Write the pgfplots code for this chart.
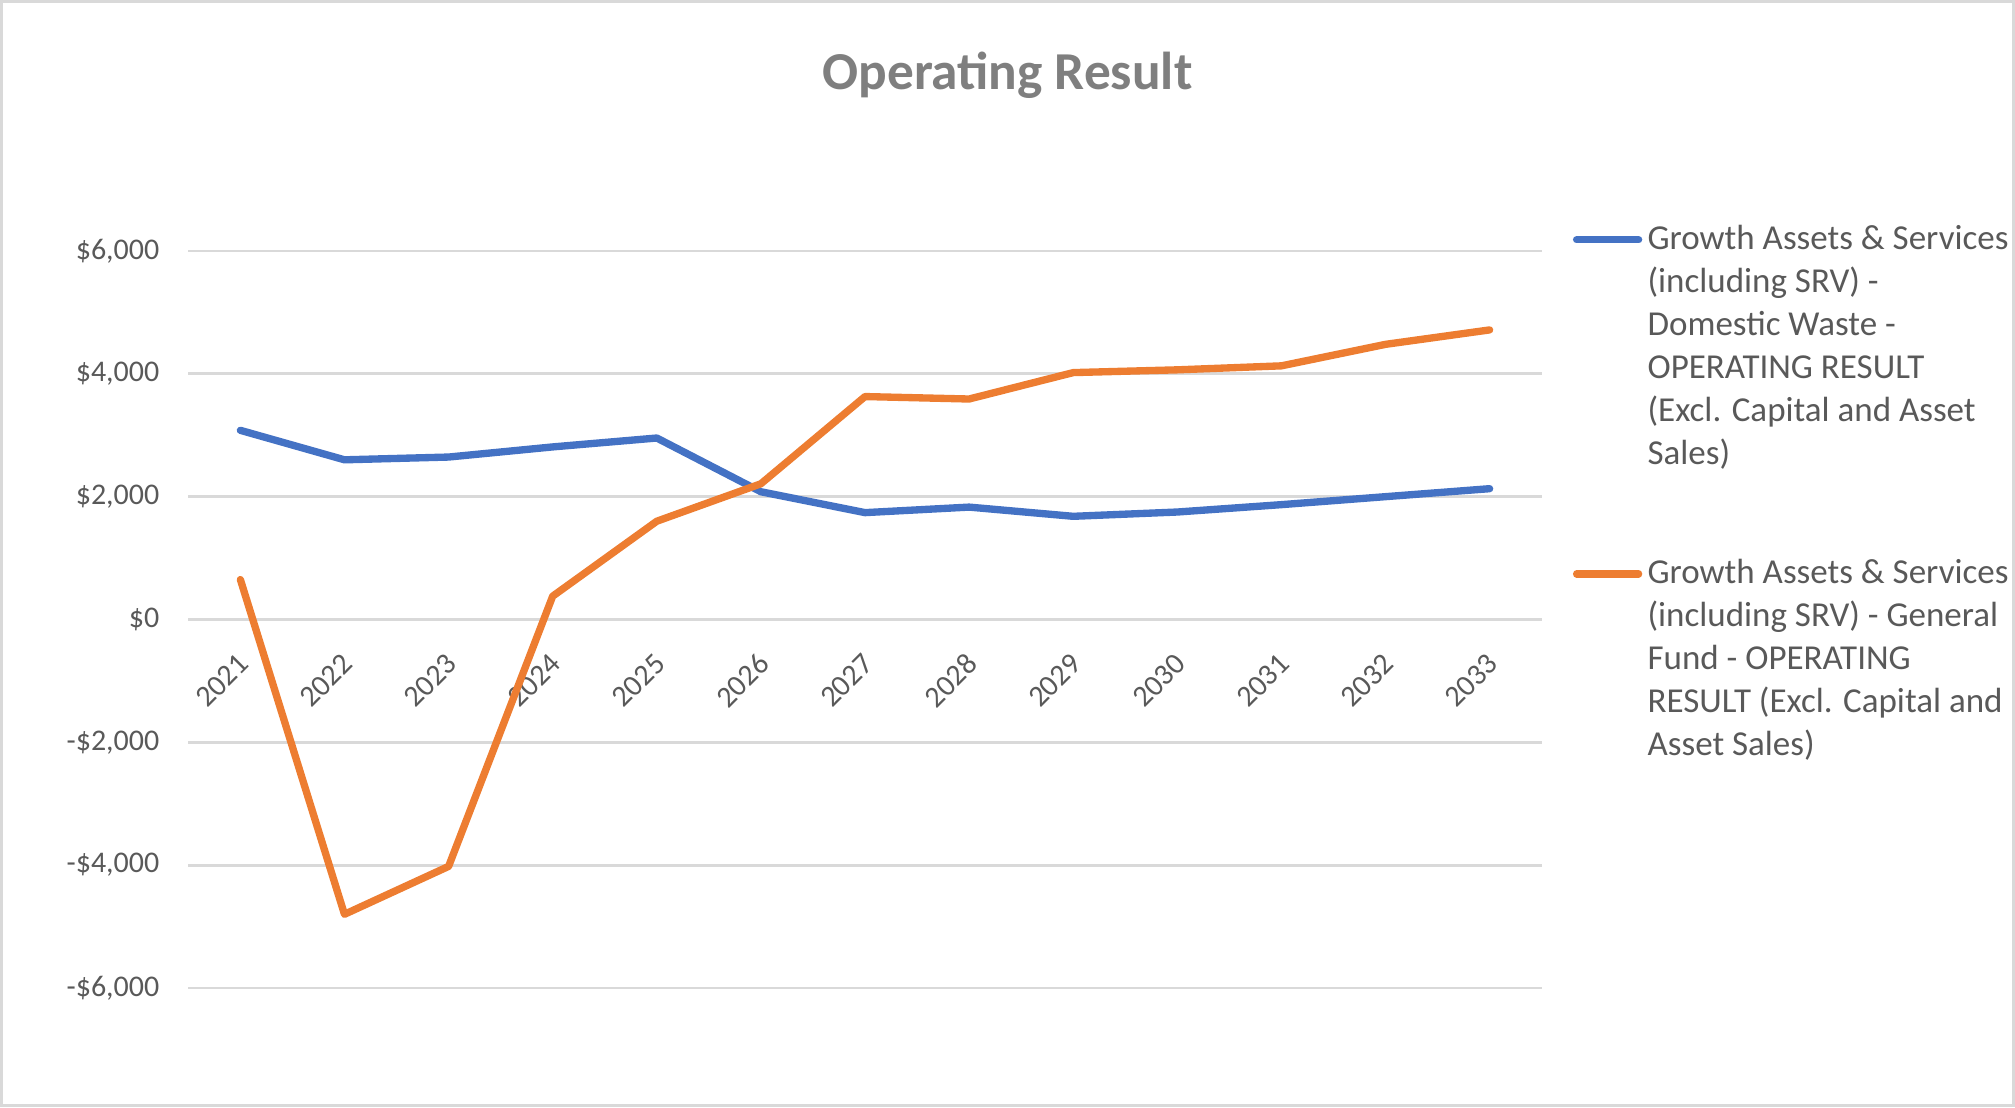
\documentclass[border=0pt]{standalone}
\usepackage{pgfplots}
\pgfplotsset{compat=1.18}
\usepackage{fontspec}
\setmainfont{Carlito}
\definecolor{sblue}{HTML}{4472C4}
\definecolor{sorange}{HTML}{ED7D31}
\definecolor{txt}{HTML}{595959}
\definecolor{ttl}{HTML}{7F7F7F}
\definecolor{gridc}{HTML}{D9D9D9}
\definecolor{framec}{HTML}{D9D9D9}
\begin{document}
\begin{tikzpicture}
\path[use as bounding box] (0,0) rectangle (604.5pt,332.1pt);
\draw[framec, line width=0.8pt] (0.4pt,0.4pt) rectangle (604.1pt,331.7pt);
\node[anchor=base, text=ttl, font=\fontsize{16}{19}\selectfont\bfseries] at (302.25pt,305.1pt) {Operating Result};
\begin{axis}[
  at={(56.5pt,35.7pt)}, anchor=south west,
  scale only axis, width=406pt, height=221.1pt,
  xmin=-0.5, xmax=12.5, ymin=-6000, ymax=6000,
  axis x line=middle, axis y line=left,
  x axis line style={draw=none}, y axis line style={draw=none},
  hide obscured x ticks=false, hide obscured y ticks=false,
  major tick length=0pt,
  xtick={0,1,2,3,4,5,6,7,8,9,10,11,12},
  xticklabels={2021,2022,2023,2024,2025,2026,2027,2028,2029,2030,2031,2032,2033},
  ytick={-6000,-4000,-2000,0,2000,4000,6000},
  yticklabels={{-\$6,000},{-\$4,000},{-\$2,000},{\$0},{\$2,000},{\$4,000},{\$6,000}},
  ymajorgrids, grid style={gridc, line width=0.8pt},
  tick label style={text=txt, font=\fontsize{9}{11}\selectfont},
  yticklabel style={inner sep=0pt, anchor=east, xshift=-8.5pt},
  xticklabel style={inner sep=0pt, anchor=east, xshift=1.1pt, yshift=-11.7pt, rotate=45},
  legend cell align=left,
  legend image code/.code={\draw[#1, line cap=round] (0pt,-0.9pt) -- (18.6pt,-0.9pt);},
  legend style={draw=none, fill=none, inner sep=0pt, outer sep=0pt,
    at={(1.0231,1.0431)}, anchor=north west, row sep=89.7pt, column sep=1.6pt,
    nodes={inner sep=0pt, text=txt, font=\fontsize{10.5}{12.9}\selectfont}},
]
\addplot[sblue, line width=2.2pt, line join=round, line cap=round] coordinates {
(0,3080) (1,2600) (2,2645) (3,2810) (4,2955) (5,2080) (6,1740) (7,1830) (8,1680) (9,1750) (10,1870) (11,2000) (12,2130)};
\addlegendentry{\begin{tabular}[t]{@{}l@{}}Growth Assets \& Services\\(including SRV) -\\Domestic Waste -\\OPERATING RESULT\\(Excl. Capital and Asset\\Sales)\end{tabular}}
\addplot[sorange, line width=2.2pt, line join=round, line cap=round] coordinates {
(0,650) (1,-4800) (2,-4020) (3,380) (4,1600) (5,2210) (6,3630) (7,3590) (8,4020) (9,4065) (10,4130) (11,4480) (12,4715)};
\addlegendentry{\begin{tabular}[t]{@{}l@{}}Growth Assets \& Services\\(including SRV) - General\\Fund - OPERATING\\RESULT (Excl. Capital and\\Asset Sales)\end{tabular}}
\end{axis}
\end{tikzpicture}
\end{document}
